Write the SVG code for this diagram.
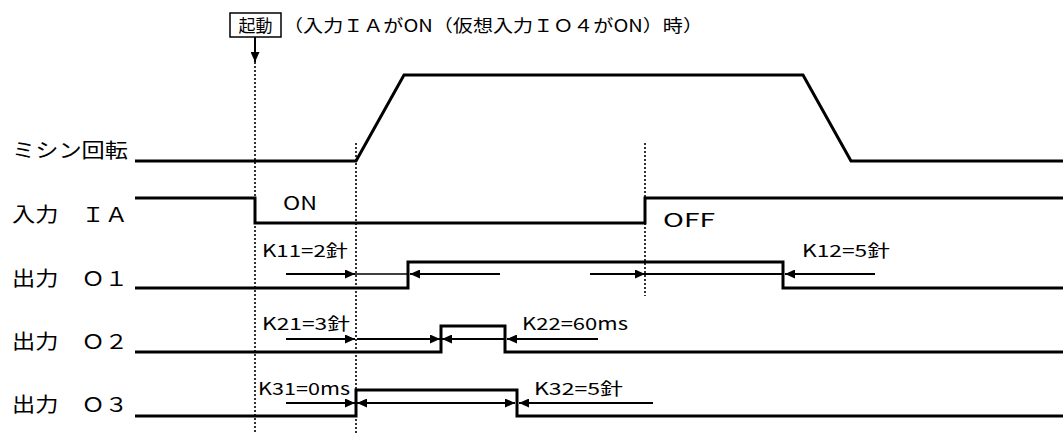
<svg xmlns="http://www.w3.org/2000/svg" width="1063" height="433" viewBox="0 0 1063 433">
<style>
text{font-family:"Noto Sans CJK JP","Noto Sans",sans-serif;fill:#000}
.lbl{font-size:20px}
.k{font-size:17px}
.st{font-size:18px}
.sig{fill:none;stroke:#000;stroke-width:3;stroke-linejoin:miter}
.arr{stroke:#000;stroke-width:2;fill:none}
.thin{stroke:#000;stroke-width:1.5;fill:none}
.dot{stroke:#000;stroke-width:1.6;stroke-dasharray:2 2;fill:none}
</style>
<defs>
<marker id="ah" markerUnits="userSpaceOnUse" markerWidth="10" markerHeight="9" refX="10" refY="4.5" orient="auto-start-reverse">
<path d="M0,0 L10,4.5 L0,9 z" fill="#000"/>
</marker>
</defs>
<rect width="1063" height="433" fill="#fff"/>

<g id="guides">
<line class="dot" x1="255" y1="62" x2="255" y2="433"/>
<line class="dot" x1="356" y1="143" x2="356" y2="433"/>
<line class="dot" x1="645" y1="143" x2="645" y2="296"/>
</g>

<g id="start">
<rect x="230" y="13" width="51" height="24" fill="#fff" stroke="#000" stroke-width="1.5"/>
<text x="255.5" y="32" font-size="17" text-anchor="middle">起動</text>
<line x1="255" y1="37" x2="255" y2="62" stroke="#000" stroke-width="2" marker-end="url(#ah)"/>
<text x="283" y="32" font-size="17" textLength="420" lengthAdjust="spacingAndGlyphs">（入力ＩＡがON（仮想入力ＩＯ４がON）時）</text>
</g>

<g id="motor">
<text class="lbl" x="12" y="158" textLength="116" lengthAdjust="spacingAndGlyphs">ミシン回転</text>
<polyline class="sig" points="135,161 356,161 404,75 803,75 851,161 1063,161"/>
</g>

<g id="inputIA">
<text class="lbl" x="12" y="222" textLength="116" lengthAdjust="spacingAndGlyphs">入力　ＩＡ</text>
<polyline class="sig" points="135,198 255,198 255,223 645,223 645,198 1063,198"/>
<text class="st" x="283" y="210" textLength="34" lengthAdjust="spacingAndGlyphs">ON</text>
<text class="st" x="663" y="227" textLength="52" lengthAdjust="spacingAndGlyphs">OFF</text>
</g>

<g id="outO1">
<text class="lbl" x="12" y="286" textLength="116" lengthAdjust="spacingAndGlyphs">出力　Ｏ１</text>
<polyline class="sig" points="135,288 408,288 408,262 783,262 783,288 1063,288"/>
<text class="k" x="262" y="257" textLength="86" lengthAdjust="spacingAndGlyphs">K11=2針</text>
<text class="k" x="802" y="257" textLength="88" lengthAdjust="spacingAndGlyphs">K12=5針</text>
</g>

<g id="outO2">
<text class="lbl" x="12" y="349" textLength="116" lengthAdjust="spacingAndGlyphs">出力　Ｏ２</text>
<polyline class="sig" points="135,352 441,352 441,326 505,326 505,352 1063,352"/>
<text class="k" x="262" y="330" textLength="88" lengthAdjust="spacingAndGlyphs">K21=3針</text>
<text class="k" x="522" y="330" textLength="106" lengthAdjust="spacingAndGlyphs">K22=60ms</text>
</g>

<g id="outO3">
<text class="lbl" x="12" y="412" textLength="116" lengthAdjust="spacingAndGlyphs">出力　Ｏ３</text>
<polyline class="sig" points="135,416 356,416 356,390 517,390 517,416 1063,416"/>
<text class="k" x="258" y="395" textLength="92" lengthAdjust="spacingAndGlyphs">K31=0ms</text>
<text class="k" x="534" y="395" textLength="89" lengthAdjust="spacingAndGlyphs">K32=5針</text>
</g>

<g id="connectors">
<line class="arr" x1="286" y1="274" x2="355" y2="274" marker-end="url(#ah)"/>
<line class="thin" x1="355" y1="274" x2="408" y2="274"/>
<line class="arr" x1="500" y1="274" x2="410" y2="274" marker-end="url(#ah)"/>
<line class="arr" x1="590" y1="274" x2="645" y2="274" marker-end="url(#ah)"/>
<line class="arr" x1="645" y1="274" x2="783" y2="274"/>
<line class="arr" x1="875" y1="274" x2="785" y2="274" marker-end="url(#ah)"/>

<line class="arr" x1="286" y1="339" x2="355" y2="339" marker-end="url(#ah)"/>
<line class="arr" x1="357" y1="339" x2="440" y2="339" marker-end="url(#ah)"/>
<line class="arr" x1="505" y1="339" x2="442" y2="339" marker-end="url(#ah)"/>
<line class="arr" x1="598" y1="339" x2="507" y2="339" marker-end="url(#ah)"/>

<line class="arr" x1="286" y1="403" x2="355" y2="403" marker-end="url(#ah)"/>
<line class="arr" x1="357" y1="403" x2="515" y2="403" marker-start="url(#ah)" marker-end="url(#ah)"/>
<line class="arr" x1="653" y1="403" x2="519" y2="403" marker-end="url(#ah)"/>
</g>
</svg>
